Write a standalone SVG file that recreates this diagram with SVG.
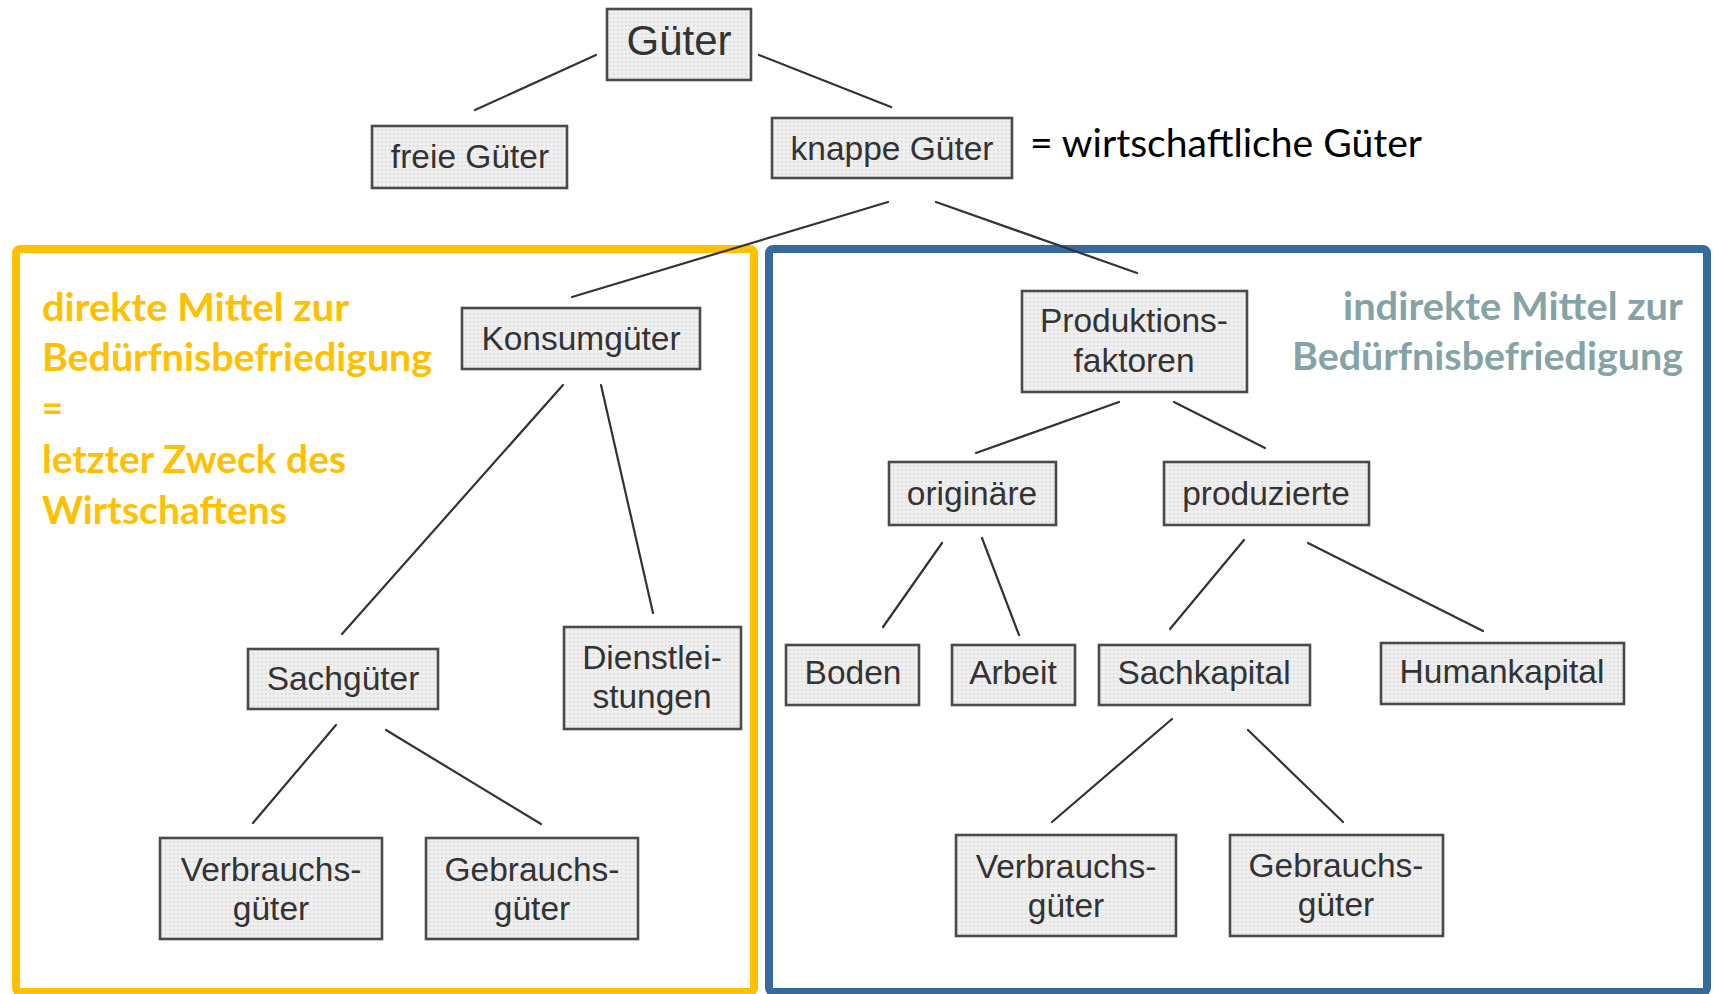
<svg xmlns="http://www.w3.org/2000/svg" width="1714" height="994" viewBox="0 0 1714 994">
  <defs>
    <!-- fine dot raster used as box fill -->
    <pattern id="dots" width="4" height="4" patternUnits="userSpaceOnUse">
      <rect width="4" height="4" fill="#efefef"/>
      <rect x="1" y="1" width="1.4" height="1.4" fill="#d4d4d4"/>
    </pattern>
    <style>
      .box { fill: url(#dots); stroke: #4a4a4a; stroke-width: 2.6; }
      .lbl { font-family: "Liberation Sans", Arial, sans-serif; font-size: 33.5px; fill: #333; text-anchor: middle; }
      .big { font-size: 42px; }
      .edge { stroke: #333; stroke-width: 2.2; stroke-linecap: round; fill: none; }
      .note { font-family: Lato, "Open Sans", sans-serif; font-size: 39px; font-weight: bold; }
      .direct { fill: #FFC000; }
      .indirect { fill: #84A3A6; text-anchor: end; }
      .eq { font-family: Lato, "Open Sans", sans-serif; font-size: 39px; fill: #000; }
    </style>
  </defs>

  <rect width="1714" height="994" fill="#ffffff"/>

  <!-- grouping frames -->
  <g id="frame-direct">
    <rect x="16" y="249" width="738" height="743" rx="4" fill="none" stroke="#FFC000" stroke-width="8"/>
    <text class="note direct" x="42" y="321" textLength="307" lengthAdjust="spacingAndGlyphs">direkte Mittel zur</text>
    <text class="note direct" x="42" y="371" textLength="390" lengthAdjust="spacingAndGlyphs">Bedürfnisbefriedigung</text>
    <text class="note direct" x="42" y="422" textLength="21" lengthAdjust="spacingAndGlyphs">=</text>
    <text class="note direct" x="42" y="473" textLength="304" lengthAdjust="spacingAndGlyphs">letzter Zweck des</text>
    <text class="note direct" x="42" y="524" textLength="245" lengthAdjust="spacingAndGlyphs">Wirtschaftens</text>
  </g>
  <g id="frame-indirect">
    <rect x="769" y="249" width="938" height="743" rx="4" fill="none" stroke="#376A9C" stroke-width="8"/>
    <text class="note indirect" x="1683" y="320" textLength="340" lengthAdjust="spacingAndGlyphs">indirekte Mittel zur</text>
    <text class="note indirect" x="1683" y="370" textLength="391" lengthAdjust="spacingAndGlyphs">Bedürfnisbefriedigung</text>
  </g>

  <!-- connectors -->
  <g id="connectors">
    <line class="edge" x1="596" y1="55" x2="475" y2="110"/>
    <line class="edge" x1="759" y1="55" x2="891" y2="107"/>
    <line class="edge" x1="888" y1="202" x2="572" y2="297"/>
    <line class="edge" x1="936" y1="202" x2="1137" y2="273"/>
    <line class="edge" x1="563" y1="385" x2="342" y2="634"/>
    <line class="edge" x1="601" y1="385" x2="653" y2="613"/>
    <line class="edge" x1="336" y1="725" x2="253" y2="823"/>
    <line class="edge" x1="386" y1="730" x2="541" y2="824"/>
    <line class="edge" x1="1119" y1="402" x2="976" y2="453"/>
    <line class="edge" x1="1174" y1="402" x2="1265" y2="448"/>
    <line class="edge" x1="942" y1="543" x2="883" y2="627"/>
    <line class="edge" x1="982" y1="538" x2="1019" y2="635"/>
    <line class="edge" x1="1244" y1="540" x2="1170" y2="629"/>
    <line class="edge" x1="1308" y1="543" x2="1483" y2="631"/>
    <line class="edge" x1="1172" y1="719" x2="1052" y2="822"/>
    <line class="edge" x1="1248" y1="730" x2="1343" y2="822"/>
  </g>

  <!-- nodes -->
  <g id="gueter">
    <rect class="box" x="607" y="9" width="144" height="71"/>
    <text class="lbl big" x="679" y="55">Güter</text>
  </g>
  <g id="freie-gueter">
    <rect class="box" x="372" y="126" width="195" height="62"/>
    <text class="lbl" x="470" y="168">freie Güter</text>
  </g>
  <g id="knappe-gueter">
    <rect class="box" x="772" y="118" width="240" height="60"/>
    <text class="lbl" x="892" y="160">knappe Güter</text>
  </g>
  <g id="wirtschaftliche-gueter">
    <text class="eq" x="1030" y="157" textLength="392" lengthAdjust="spacingAndGlyphs">= wirtschaftliche Güter</text>
  </g>
  <g id="konsumgueter">
    <rect class="box" x="462" y="308" width="238" height="61"/>
    <text class="lbl" x="581" y="350">Konsumgüter</text>
  </g>
  <g id="produktionsfaktoren">
    <rect class="box" x="1022" y="291" width="225" height="101"/>
    <text class="lbl" x="1134" y="332">Produktions-</text>
    <text class="lbl" x="1134" y="372">faktoren</text>
  </g>
  <g id="originaere">
    <rect class="box" x="889" y="462" width="167" height="63"/>
    <text class="lbl" x="972" y="505">originäre</text>
  </g>
  <g id="produzierte">
    <rect class="box" x="1164" y="462" width="205" height="63"/>
    <text class="lbl" x="1266" y="505">produzierte</text>
  </g>
  <g id="sachgueter">
    <rect class="box" x="248" y="649" width="190" height="60"/>
    <text class="lbl" x="343" y="690">Sachgüter</text>
  </g>
  <g id="dienstleistungen">
    <rect class="box" x="564" y="627" width="177" height="102"/>
    <text class="lbl" x="652" y="669">Dienstlei-</text>
    <text class="lbl" x="652" y="708">stungen</text>
  </g>
  <g id="boden">
    <rect class="box" x="786" y="645" width="133" height="60"/>
    <text class="lbl" x="853" y="684">Boden</text>
  </g>
  <g id="arbeit">
    <rect class="box" x="952" y="645" width="123" height="60"/>
    <text class="lbl" x="1013" y="684">Arbeit</text>
  </g>
  <g id="sachkapital">
    <rect class="box" x="1099" y="645" width="211" height="60"/>
    <text class="lbl" x="1204" y="684">Sachkapital</text>
  </g>
  <g id="humankapital">
    <rect class="box" x="1381" y="643" width="243" height="61"/>
    <text class="lbl" x="1502" y="683">Humankapital</text>
  </g>
  <g id="verbrauchsgueter-konsum">
    <rect class="box" x="160" y="838" width="222" height="101"/>
    <text class="lbl" x="271" y="881">Verbrauchs-</text>
    <text class="lbl" x="271" y="920">güter</text>
  </g>
  <g id="gebrauchsgueter-konsum">
    <rect class="box" x="426" y="838" width="212" height="101"/>
    <text class="lbl" x="532" y="881">Gebrauchs-</text>
    <text class="lbl" x="532" y="920">güter</text>
  </g>
  <g id="verbrauchsgueter-kapital">
    <rect class="box" x="956" y="835" width="220" height="101"/>
    <text class="lbl" x="1066" y="878">Verbrauchs-</text>
    <text class="lbl" x="1066" y="917">güter</text>
  </g>
  <g id="gebrauchsgueter-kapital">
    <rect class="box" x="1230" y="835" width="213" height="101"/>
    <text class="lbl" x="1336" y="877">Gebrauchs-</text>
    <text class="lbl" x="1336" y="916">güter</text>
  </g>
</svg>
